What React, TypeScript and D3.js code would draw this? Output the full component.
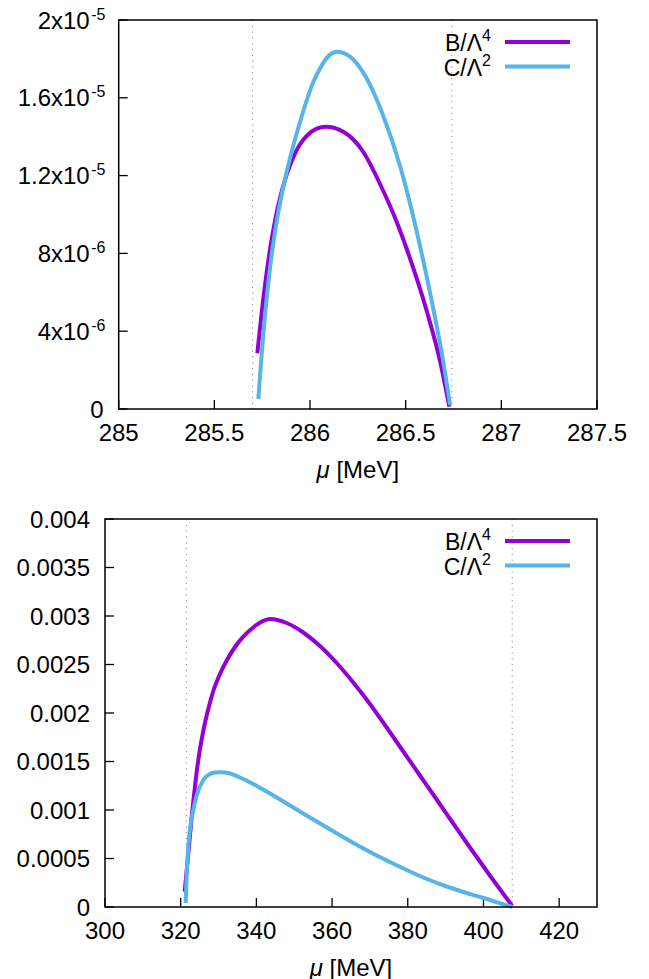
import React from "react";
import * as d3 from "d3";

// ---------- Top panel data ----------
const topMuB = [285.7245, 285.7475, 285.7737, 285.7946, 285.8207, 285.8468, 285.8782, 285.9127, 285.9477, 285.9828, 286.035, 286.0836, 286.1741, 286.2264, 286.2786, 286.3659, 286.4532, 286.5055, 286.61, 286.6796, 286.7282];
const topValB = [2.864e-6, 4.967e-6, 7.044e-6, 8.432e-6, 9.856e-6, 1.0987e-5, 1.2057e-5, 1.2951e-5, 1.3609e-5, 1.4046e-5, 1.4411e-5, 1.4514e-5, 1.4257e-5, 1.3856e-5, 1.3213e-5, 1.1568e-5, 9.614e-6, 8.226e-6, 5.039e-6, 2.468e-6, 1.18e-7];
const topMuC = [285.7298, 285.7423, 285.7559, 285.782, 285.8082, 285.8343, 285.8604, 285.8955, 285.9477, 286.0173, 286.0523, 286.0873, 286.1134, 286.1396, 286.2091, 286.2964, 286.3832, 286.4705, 286.54, 286.575, 286.6445, 286.6968, 286.7319];
const topValC = [5.14e-7, 2.175e-6, 3.856e-6, 6.478e-6, 8.535e-6, 1.0129e-5, 1.1414e-5, 1.2895e-5, 1.4756e-5, 1.6812e-5, 1.7506e-5, 1.8052e-5, 1.8277e-5, 1.837e-5, 1.8113e-5, 1.6992e-5, 1.5064e-5, 1.2494e-5, 9.871e-6, 8.38e-6, 5.141e-6, 2.416e-6, 2.06e-7];
const topXTicks = [285, 285.5, 286, 286.5, 287, 287.5];
const topXTickLabels = ["285", "285.5", "286", "286.5", "287", "287.5"];
const topYTicks = [0, 4e-6, 8e-6, 1.2e-5, 1.6e-5, 2e-5];
const topYTickMantissa = ["0", "4x10", "8x10", "1.2x10", "1.6x10", "2x10"];
const topYTickExponent = ["", "-6", "-6", "-5", "-5", "-5"];
const topBounds = [285.7, 286.741];

// ---------- Bottom panel data ----------
const botMuB = [321.06, 322.91, 324.65, 325.97, 327.29, 328.61, 330.38, 332.15, 334.35, 336.54, 339.63, 341.48, 343.59, 348.01, 352.39, 356.8, 361.22, 365.6, 370.01, 374.43, 378.81, 383.22, 387.64, 392.02, 396.43, 401.98, 407.61];
const botValB = [0.0001577, 0.0009309, 0.0015155, 0.0018144, 0.0020412, 0.0022268, 0.0024021, 0.0025412, 0.0026804, 0.0027866, 0.0028969, 0.0029433, 0.0029691, 0.0029278, 0.0028299, 0.0026907, 0.0025155, 0.0023144, 0.0020928, 0.0018505, 0.0016031, 0.0013557, 0.0011082, 0.0008608, 0.0006134, 0.0003093, 0.0000103];
const botMuC = [321.32, 321.59, 322.01, 322.46, 323.33, 324.23, 325.97, 327.74, 329.06, 330.57, 333.03, 335.67, 339.18, 343.59, 348.01, 354.16, 359.97, 364.73, 370.01, 375.3, 379.97, 385.07, 390.28, 395.11, 400.05, 403.83, 407.61];
const botValC = [0.0000412, 0.0003474, 0.0006289, 0.0008041, 0.001, 0.0011495, 0.0013093, 0.0013711, 0.0013856, 0.0013887, 0.0013763, 0.0013351, 0.001268, 0.0011701, 0.001067, 0.0009227, 0.0007887, 0.0006804, 0.000567, 0.0004639, 0.0003763, 0.0002887, 0.0002113, 0.0001495, 0.0000928, 0.0000454, 0.0];
const botXTicks = [300, 320, 340, 360, 380, 400, 420];
const botXTickLabels = ["300", "320", "340", "360", "380", "400", "420"];
const botYTicks = [0, 0.0005, 0.001, 0.0015, 0.002, 0.0025, 0.003, 0.0035, 0.004];
const botYTickMantissa = ["0", "0.0005", "0.001", "0.0015", "0.002", "0.0025", "0.003", "0.0035", "0.004"];
const botYTickExponent = ["", "", "", "", "", "", "", "", ""];
const botBounds = [321.5, 407.6];

const seriesNames = ["B/Λ", "C/Λ"];
const seriesExp = ["4", "2"];
const seriesColors = ["#9400D3", "#56B4E9"];

const FONT = "'Liberation Sans', Arial, Helvetica, sans-serif";

type PanelProps = {
  xDomain: [number, number];
  yDomain: [number, number];
  left: number;
  right: number;
  top: number;
  bottom: number;
  xTicks: number[];
  xTickLabels: string[];
  yTicks: number[];
  yMant: string[];
  yExp: string[];
  bounds: number[];
  series: { mu: number[]; val: number[] }[];
};

function Panel(p: PanelProps) {
  const x = d3.scaleLinear().domain(p.xDomain).range([p.left, p.right]);
  const y = d3.scaleLinear().domain(p.yDomain).range([p.bottom, p.top]);
  const line = d3
    .line<[number, number]>()
    .x((d) => x(d[0]))
    .y((d) => y(d[1]))
    .curve(d3.curveMonotoneX);
  const tickLen = 9;
  const cx = (p.left + p.right) / 2;
  return (
    <g fontFamily={FONT} fill="#000">
      {p.bounds.map((b, i) => (
        <line
          key={"b" + i}
          x1={x(b)}
          x2={x(b)}
          y1={p.top}
          y2={p.bottom}
          stroke="#888"
          strokeWidth={1}
          strokeDasharray="1.2,4.6"
        />
      ))}
      {p.xTicks.map((t, i) => (
        <g key={"xt" + i}>
          <line x1={x(t)} x2={x(t)} y1={p.bottom} y2={p.bottom - tickLen} stroke="#000" strokeWidth={1.3} />
          <text x={x(t)} y={p.bottom + 31.5} textAnchor="middle" fontSize={24}>
            {p.xTickLabels[i]}
          </text>
        </g>
      ))}
      {p.yTicks.map((t, i) => (
        <g key={"yt" + i}>
          <line x1={p.left} x2={p.left + tickLen} y1={y(t)} y2={y(t)} stroke="#000" strokeWidth={1.3} />
          <text
            x={p.yExp[i] ? p.left - 29 : p.left - 15}
            y={y(t) + 8.5}
            textAnchor="end"
            fontSize={24}
          >
            {p.yMant[i]}
          </text>
          {p.yExp[i] ? (
            <text x={p.left - 27.5} y={y(t) - 0.5} textAnchor="start" fontSize={16}>
              {p.yExp[i]}
            </text>
          ) : null}
        </g>
      ))}
      {p.series.map((s, i) => (
        <path
          key={"s" + i}
          d={line(s.mu.map((m, j) => [m, s.val[j]] as [number, number])) || ""}
          fill="none"
          stroke={seriesColors[i]}
          strokeWidth={4}
          strokeLinejoin="round"
        />
      ))}
      <rect
        x={p.left}
        y={p.top}
        width={p.right - p.left}
        height={p.bottom - p.top}
        fill="none"
        stroke="#000"
        strokeWidth={1.5}
      />
      {seriesNames.map((n, i) => {
        const ly = p.top + 22 + i * 24.5;
        return (
          <g key={"lg" + i}>
            <text x={491} y={ly + 9} textAnchor="end" fontSize={23}>
              {n}
              <tspan fontSize={16} dy={-10}>
                {seriesExp[i]}
              </tspan>
            </text>
            <line x1={505} x2={570} y1={ly} y2={ly} stroke={seriesColors[i]} strokeWidth={4} />
          </g>
        );
      })}
      <text x={cx} y={p.bottom + 68.5} textAnchor="middle" fontSize={24}>
        <tspan fontStyle="italic">μ</tspan> [MeV]
      </text>
    </g>
  );
}

export default function App() {
  return (
    <svg width={649} height={979} style={{ position: "absolute", left: 0, top: 0, background: "#fff" }}>
      <rect x={0} y={0} width={649} height={979} fill="#fff" />
      <Panel
        xDomain={[285, 287.5]}
        yDomain={[0, 2e-5]}
        left={118.7}
        right={597}
        top={20}
        bottom={409}
        xTicks={topXTicks}
        xTickLabels={topXTickLabels}
        yTicks={topYTicks}
        yMant={topYTickMantissa}
        yExp={topYTickExponent}
        bounds={topBounds}
        series={[
          { mu: topMuB, val: topValB },
          { mu: topMuC, val: topValC },
        ]}
      />
      <Panel
        xDomain={[300, 430]}
        yDomain={[0, 0.004]}
        left={105}
        right={597}
        top={519}
        bottom={907}
        xTicks={botXTicks}
        xTickLabels={botXTickLabels}
        yTicks={botYTicks}
        yMant={botYTickMantissa}
        yExp={botYTickExponent}
        bounds={botBounds}
        series={[
          { mu: botMuB, val: botValB },
          { mu: botMuC, val: botValC },
        ]}
      />
    </svg>
  );
}
